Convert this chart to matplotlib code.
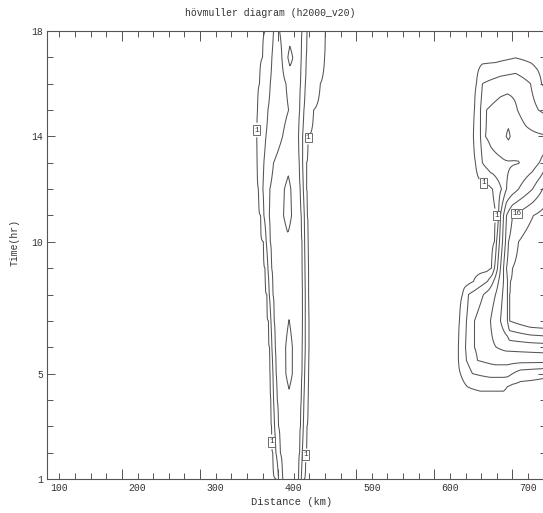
import numpy as np
import matplotlib
matplotlib.use("Agg")
import matplotlib.pyplot as plt

plt.rcParams['font.family'] = ['Liberation Mono', 'DejaVu Sans Mono']

# Contour levels
levels = [1, 4, 7, 10, 13, 16, 19]

# ---- Western band: distance (km) where each level is crossed, per hour ----
band_hours = np.arange(1, 19)
band_l1 = [377.5, 373.3, 371.6, 370.7, 369.9, 369.0, 367.7, 365.6, 363.4,
           361.3, 357.5, 354.9, 353.2, 352.8, 353.6, 356.2, 360.0, 363.4]
band_l4 = [380.5, 377.1, 375.4, 374.1, 373.3, 372.0, 370.7, 368.6, 366.9,
           364.7, 361.7, 360.5, 361.7, 364.3, 366.9, 369.9, 372.0, 374.1]
band_l7 = [385.7, 382.7, 380.5, 378.8, 377.5, 376.3, 375.0, 373.3, 371.6,
           369.9, 368.6, 369.4, 374.1, 385.7, 393.4, 390.0, 384.8, 381.8]
band_mid = [396, 395, 395, 394, 394, 394, 394, 393, 392,
            392, 393, 393, 393, 397, 400, 399, 395, 395]
band_r7 = [406.2, 407.5, 408.7, 409.6, 410.5, 410.9, 411.3, 411.3, 410.9,
           410.5, 409.6, 408.3, 407.0, 406.2, 407.5, 408.7, 409.6, 410.5]
band_r4 = [409.6, 410.9, 412.2, 413.0, 413.9, 414.7, 414.7, 414.7, 414.3,
           413.9, 413.5, 412.2, 411.3, 411.3, 413.0, 414.7, 416.0, 416.9]
band_r1 = [413.5, 415.2, 416.9, 418.2, 419.0, 419.4, 419.4, 419.0, 418.6,
           418.2, 417.3, 416.4, 416.4, 418.2, 425.4, 434.0, 439.5, 440.4]
band_peak = [8.5, 8.5, 8.5, 9.3, 11.0, 11.0, 10.05, 9.0, 9.0,
             9.5, 11.0, 10.8, 9.2, 8.8, 8.8, 8.6, 11.0, 8.6]

# ---- Eastern system: profile knots (distance km, value) per time ----
east_hours = [4, 4.5, 5, 5.5, 6, 7, 8, 8.5, 9, 10, 11, 12, 13, 14, 15, 16, 17, 18]
east_dist = [
    [600, 745],
    [613.4, 622.4, 639.1, 668.6, 680.1, 690.4],
    [604.5, 613.4, 628.8, 651.9, 673.7, 690.4, 722.4, 745],
    [603.2, 610.9, 621.1, 635.3, 658.3, 722.4, 745],
    [601.9, 610.9, 619.9, 631.4, 651.9, 671.1, 722.4, 745],
    [603.2, 612.2, 621.1, 631.4, 651.9, 664.7, 673.7, 676.3, 703.2, 722.4, 745],
    [607.0, 616.0, 623.7, 642.9, 658.3, 667.3, 673.7, 676.3, 703.2, 745],
    [622.4, 630.1, 648.1, 655.7, 662.2, 668.6, 673.7, 677.5, 703.2, 745],
    [646.8, 653.2, 657.0, 660.9, 664.7, 668.6, 672.4, 680.1, 709.6, 745],
    [650.6, 657.0, 659.6, 663.4, 667.3, 671.1, 675.0, 687.8, 722.4, 745],
    [653.2, 659.6, 662.2, 664.7, 668.6, 672.4, 680.1, 707.0, 731.4, 745],
    [648.0, 654.5, 666.0, 672.4, 687.8, 705.7, 718.6, 731.4, 745],
    [625.0, 632.7, 641.6, 651.9, 671.1, 687.8, 694.2, 705.7, 716.0, 726.3, 745],
    [622.4, 630.1, 639.1, 645.5, 664.7, 675.0, 681.4, 696.8, 722.4, 745],
    [623.7, 631.4, 639.1, 646.8, 664.7, 673.7, 686.5, 713.4, 741.7],
    [626.3, 633.9, 641.6, 664.7, 684.0, 703.2, 717.3, 726.3],
    [658.3, 684.0, 709.6],
    [600, 745],
]
east_vals = [
    [0, 0],
    [0, 1, 1.5, 1.5, 0.3, 0],
    [0, 1, 4, 5, 5, 2.5, 1.5, 1.5],
    [0, 1, 4, 7, 8, 8, 8],
    [0, 1, 4, 7, 9.5, 10.8, 11.5, 11.5],
    [0, 1, 4, 7, 10, 13, 16, 19, 21.5, 22, 22],
    [0, 1, 4, 7, 10, 13, 16, 19, 22, 22],
    [0, 1, 4, 7, 10, 13, 16, 19, 22, 22],
    [0, 1, 4, 7, 10, 13, 16, 19, 22, 22],
    [0, 1, 4, 7, 10, 13, 16, 19, 22, 22],
    [0, 1, 4, 7, 10, 13, 16, 19, 21, 21],
    [0, 1, 4, 7, 10, 13, 16, 19, 20],
    [0, 1, 4, 6, 6.7, 6.9, 7.5, 8.5, 10.3, 13, 15],
    [0, 1, 4, 7, 8.8, 10.5, 9, 7.8, 7.2, 7.2],
    [0, 1, 4, 7, 8.5, 9, 7, 4, 2],
    [0, 1, 4, 5.5, 6, 4, 1, 0],
    [0, 0.9, 0],
    [0, 0],
]

# labelled contours: level -> label anchor points (km, hr)
band_label_pts = {1: [(352.8, 14.24), (416, 13.99), (372, 2.41), (415.6, 1.91)]}
east_label_pts = {1: [(643, 12.23), (662, 10.98)], 16: [(685, 11.13)]}

x_labels = [100, 200, 300, 400, 500, 600, 700]
y_labels = [1, 5, 10, 14, 18]

# ---- build gridded fields ----
band_x = np.arange(300, 480.01, 0.5)
band_z = np.array([
    np.interp(band_x,
              [l1 - 25, l1, l4, l7, m, r7, r4, r1, r1 + 25],
              [0, 1, 4, 7, p, 7, 4, 1, 0])
    for l1, l4, l7, m, r7, r4, r1, p in zip(band_l1, band_l4, band_l7, band_mid,
                                             band_r7, band_r4, band_r1, band_peak)
])

east_x = np.arange(590, 745.01, 0.5)
east_z = np.array([np.interp(east_x, d, v, left=0, right=v[-1])
                   for d, v in zip(east_dist, east_vals)])

# ---- figure ----
W, H = 543, 513
fig = plt.figure(figsize=(W / 100, H / 100), dpi=100)
ax = fig.add_axes([47 / W, 34 / H, 499 / W, 448 / H])

line_col = '#555555'
box = dict(boxstyle='square,pad=0.15', fc='white', ec=line_col, lw=0.6)


def draw_field(x, y, z, label_pts):
    plain = [lv for lv in levels if lv not in label_pts]
    ax.contour(x, y, z, levels=plain, colors=line_col, linewidths=0.75)
    for lv, pts in label_pts.items():
        cs = ax.contour(x, y, z, levels=[lv], colors=line_col, linewidths=0.75)
        texts = ax.clabel(cs, fmt='%d', inline=True, fontsize=5.5, manual=pts)
        for t in texts:
            t.set_bbox(box)
            t.set_color('#333333')
            t.set_rotation(0)


draw_field(band_x, band_hours, band_z, band_label_pts)
draw_field(east_x, east_hours, east_z, east_label_pts)

ax.set_xlim(84, 723)
ax.set_ylim(1, 18)

ax.set_xticks(x_labels)
ax.set_xticks(np.arange(100, 721, 20), minor=True)
ax.set_yticks(y_labels)
ax.set_yticks(np.arange(1, 19), minor=True)

ax.tick_params(which='both', direction='in', top=True, right=True,
               color=line_col, labelcolor='#333333', labelsize=7, width=0.7)
ax.tick_params(which='minor', length=4)
ax.tick_params(axis='x', which='major', length=4, pad=3)
ax.tick_params(axis='y', which='major', length=6, pad=3)

for side in ('bottom', 'top'):
    sec = ax.secondary_xaxis(side)
    sec.set_xticks(np.arange(180, 701, 100))
    sec.tick_params(direction='in', length=7, width=0.7, color=line_col,
                    labelbottom=False, labeltop=False)
    sec.spines[side].set_visible(False)

for s in ax.spines.values():
    s.set_color(line_col)
    s.set_linewidth(0.8)

fig.text(270 / W, 1 - 13 / H, 'hövmuller diagram (h2000_v20)', ha='center',
         va='center', fontsize=7, color='#333333')
fig.text(292 / W, 1 - 502 / H, 'Distance (km)', ha='center', va='center',
         fontsize=7.5, color='#333333')
fig.text(15 / W, 1 - 242 / H, 'Time(hr)', ha='center', va='center',
         rotation=90, fontsize=7, color='#333333')

fig.savefig('out.png', dpi=100)
